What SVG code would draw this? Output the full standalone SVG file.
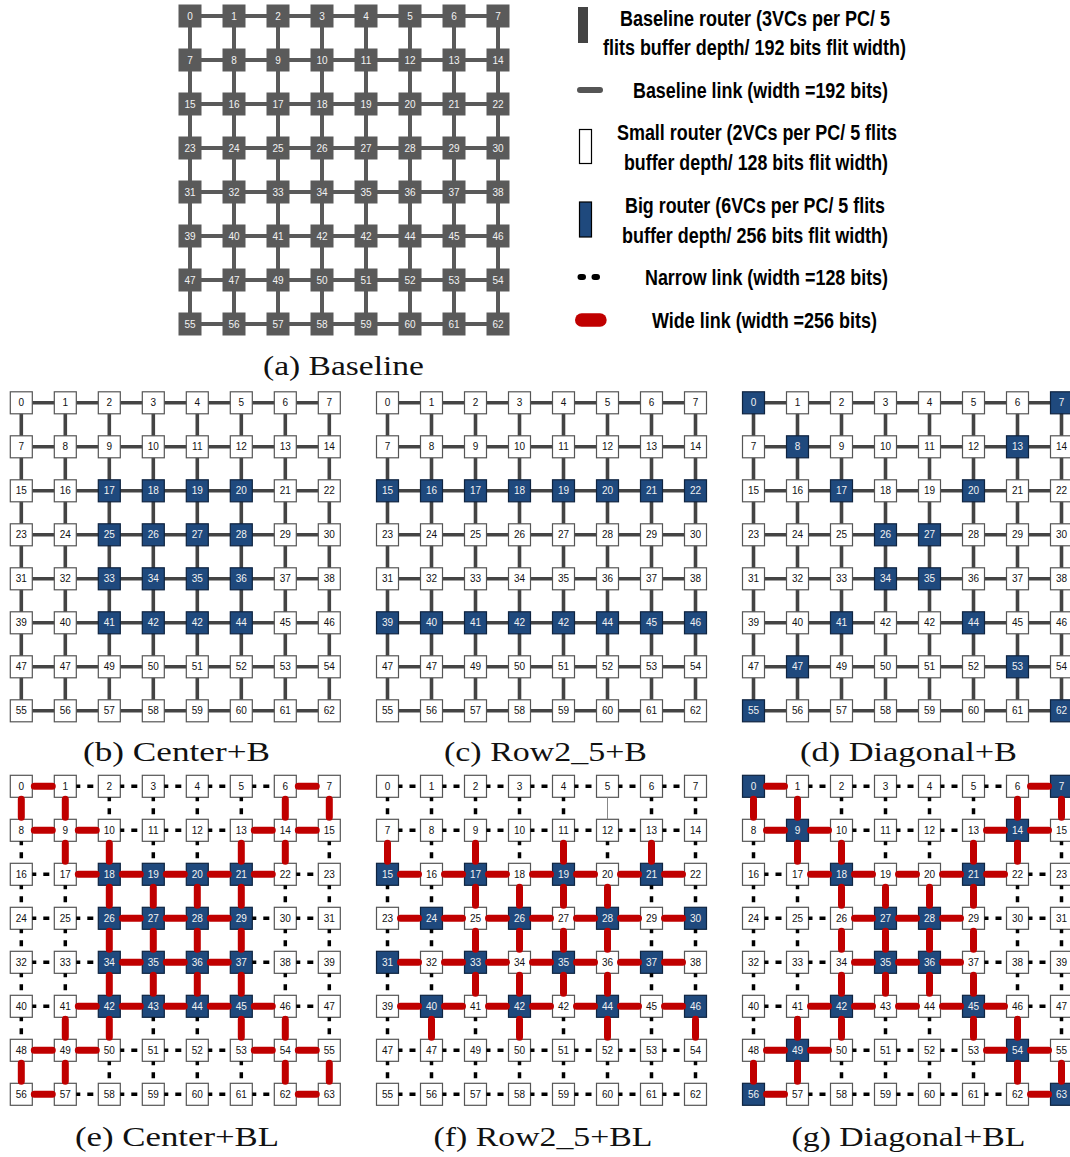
<svg xmlns="http://www.w3.org/2000/svg" xmlns:xlink="http://www.w3.org/1999/xlink" width="1070" height="1157" viewBox="0 0 1070 1157">
<style>
.n text{font-family:"Liberation Sans",Arial,sans-serif;font-size:10px;text-anchor:middle;dominant-baseline:central;fill:#111}
.wt text,.n .b text{fill:#f2f2f2}
.la{fill:none;stroke:#5a5a5a;stroke-width:4}
.lg{fill:none;stroke:#444;stroke-width:3.6}
.red{fill:none;stroke:#c00000;stroke-width:7;stroke-linecap:round}
.dsh{fill:none;stroke:#000;stroke-width:3.5;stroke-dasharray:4 7 6 10}
.cap{font-family:"Liberation Serif","DejaVu Serif",serif;font-size:27px;text-anchor:middle;fill:#111}
.lt{font-family:"Liberation Sans Narrow","Liberation Sans",Arial,sans-serif;font-weight:bold;font-size:22px;fill:#000}
</style>
<defs>
<path id="grid" d="M0 0H308M0 44H308M0 88H308M0 132H308M0 176H308M0 220H308M0 264H308M0 308H308M0 0V308M44 0V308M88 0V308M132 0V308M176 0V308M220 0V308M264 0V308M308 0V308"/>
<rect id="g" x="-11.5" y="-11.5" width="23" height="23" fill="#5a5a5a"/>
<rect id="w" x="-11" y="-11" width="22" height="22" fill="#fff" stroke="#555" stroke-width="1.2"/>
<rect id="k" x="-11" y="-11" width="22" height="22" fill="#1f497d" stroke="#0f2440" stroke-width="1.2"/>
</defs>
<rect width="1070" height="1157" fill="#fff"/>

<g id="legend">
<g id="leg-baseline-router"><rect x="578" y="7" width="10" height="36" fill="#444"/><text class="lt" x="620" y="26" textLength="270" lengthAdjust="spacingAndGlyphs">Baseline router (3VCs per PC/ 5</text><text class="lt" x="603" y="55" textLength="303" lengthAdjust="spacingAndGlyphs">flits buffer depth/ 192 bits flit width)</text></g>
<g id="leg-baseline-link"><line x1="580" y1="90" x2="600" y2="90" stroke="#555" stroke-width="6" stroke-linecap="round"/><text class="lt" x="633" y="98" textLength="255" lengthAdjust="spacingAndGlyphs">Baseline link (width =192 bits)</text></g>
<g id="leg-small-router"><rect x="579.5" y="129.5" width="12" height="34" fill="#fff" stroke="#000" stroke-width="1.2"/><text class="lt" x="617" y="140" textLength="280" lengthAdjust="spacingAndGlyphs">Small router (2VCs per PC/ 5 flits</text><text class="lt" x="624" y="170" textLength="264" lengthAdjust="spacingAndGlyphs">buffer depth/ 128 bits flit width)</text></g>
<g id="leg-big-router"><rect x="579.5" y="202" width="12" height="35" fill="#1f497d" stroke="#000" stroke-width="1.2"/><text class="lt" x="625" y="213" textLength="260" lengthAdjust="spacingAndGlyphs">Big router (6VCs per PC/ 5 flits</text><text class="lt" x="622" y="243" textLength="266" lengthAdjust="spacingAndGlyphs">buffer depth/ 256 bits flit width)</text></g>
<g id="leg-narrow-link"><path d="M580.5 277h2.5M594.5 277h2.5" stroke="#000" stroke-width="6" stroke-linecap="round"/><text class="lt" x="645" y="285" textLength="243" lengthAdjust="spacingAndGlyphs">Narrow link (width =128 bits)</text></g>
<g id="leg-wide-link"><line x1="581.7" y1="320" x2="600" y2="320" stroke="#c00000" stroke-width="13.4" stroke-linecap="round"/><text class="lt" x="652" y="328" textLength="225" lengthAdjust="spacingAndGlyphs">Wide link (width =256 bits)</text></g>
</g>

<g id="captions">
<text class="cap" x="343.5" y="375" textLength="161" lengthAdjust="spacingAndGlyphs">(a) Baseline</text>
<text class="cap" x="176.5" y="761" textLength="187" lengthAdjust="spacingAndGlyphs">(b) Center+B</text>
<text class="cap" x="545.5" y="761" textLength="203" lengthAdjust="spacingAndGlyphs">(c) Row2_5+B</text>
<text class="cap" x="908.5" y="761" textLength="217" lengthAdjust="spacingAndGlyphs">(d) Diagonal+B</text>
<text class="cap" x="177" y="1146" textLength="204" lengthAdjust="spacingAndGlyphs">(e) Center+BL</text>
<text class="cap" x="543" y="1146" textLength="219" lengthAdjust="spacingAndGlyphs">(f) Row2_5+BL</text>
<text class="cap" x="908.5" y="1146" textLength="234" lengthAdjust="spacingAndGlyphs">(g) Diagonal+BL</text>
</g>

<g id="panel-a" transform="translate(190 16)">
<g id="a-links"><use href="#grid" class="la"/></g>
<g id="a-nodes" class="n wt">
<g id="a0" transform="translate(0 0)"><use href="#g"/><text>0</text></g>
<g id="a1" transform="translate(44 0)"><use href="#g"/><text>1</text></g>
<g id="a2" transform="translate(88 0)"><use href="#g"/><text>2</text></g>
<g id="a3" transform="translate(132 0)"><use href="#g"/><text>3</text></g>
<g id="a4" transform="translate(176 0)"><use href="#g"/><text>4</text></g>
<g id="a5" transform="translate(220 0)"><use href="#g"/><text>5</text></g>
<g id="a6" transform="translate(264 0)"><use href="#g"/><text>6</text></g>
<g id="a7" transform="translate(308 0)"><use href="#g"/><text>7</text></g>
<g id="a8" transform="translate(0 44)"><use href="#g"/><text>7</text></g>
<g id="a9" transform="translate(44 44)"><use href="#g"/><text>8</text></g>
<g id="a10" transform="translate(88 44)"><use href="#g"/><text>9</text></g>
<g id="a11" transform="translate(132 44)"><use href="#g"/><text>10</text></g>
<g id="a12" transform="translate(176 44)"><use href="#g"/><text>11</text></g>
<g id="a13" transform="translate(220 44)"><use href="#g"/><text>12</text></g>
<g id="a14" transform="translate(264 44)"><use href="#g"/><text>13</text></g>
<g id="a15" transform="translate(308 44)"><use href="#g"/><text>14</text></g>
<g id="a16" transform="translate(0 88)"><use href="#g"/><text>15</text></g>
<g id="a17" transform="translate(44 88)"><use href="#g"/><text>16</text></g>
<g id="a18" transform="translate(88 88)"><use href="#g"/><text>17</text></g>
<g id="a19" transform="translate(132 88)"><use href="#g"/><text>18</text></g>
<g id="a20" transform="translate(176 88)"><use href="#g"/><text>19</text></g>
<g id="a21" transform="translate(220 88)"><use href="#g"/><text>20</text></g>
<g id="a22" transform="translate(264 88)"><use href="#g"/><text>21</text></g>
<g id="a23" transform="translate(308 88)"><use href="#g"/><text>22</text></g>
<g id="a24" transform="translate(0 132)"><use href="#g"/><text>23</text></g>
<g id="a25" transform="translate(44 132)"><use href="#g"/><text>24</text></g>
<g id="a26" transform="translate(88 132)"><use href="#g"/><text>25</text></g>
<g id="a27" transform="translate(132 132)"><use href="#g"/><text>26</text></g>
<g id="a28" transform="translate(176 132)"><use href="#g"/><text>27</text></g>
<g id="a29" transform="translate(220 132)"><use href="#g"/><text>28</text></g>
<g id="a30" transform="translate(264 132)"><use href="#g"/><text>29</text></g>
<g id="a31" transform="translate(308 132)"><use href="#g"/><text>30</text></g>
<g id="a32" transform="translate(0 176)"><use href="#g"/><text>31</text></g>
<g id="a33" transform="translate(44 176)"><use href="#g"/><text>32</text></g>
<g id="a34" transform="translate(88 176)"><use href="#g"/><text>33</text></g>
<g id="a35" transform="translate(132 176)"><use href="#g"/><text>34</text></g>
<g id="a36" transform="translate(176 176)"><use href="#g"/><text>35</text></g>
<g id="a37" transform="translate(220 176)"><use href="#g"/><text>36</text></g>
<g id="a38" transform="translate(264 176)"><use href="#g"/><text>37</text></g>
<g id="a39" transform="translate(308 176)"><use href="#g"/><text>38</text></g>
<g id="a40" transform="translate(0 220)"><use href="#g"/><text>39</text></g>
<g id="a41" transform="translate(44 220)"><use href="#g"/><text>40</text></g>
<g id="a42" transform="translate(88 220)"><use href="#g"/><text>41</text></g>
<g id="a43" transform="translate(132 220)"><use href="#g"/><text>42</text></g>
<g id="a44" transform="translate(176 220)"><use href="#g"/><text>42</text></g>
<g id="a45" transform="translate(220 220)"><use href="#g"/><text>44</text></g>
<g id="a46" transform="translate(264 220)"><use href="#g"/><text>45</text></g>
<g id="a47" transform="translate(308 220)"><use href="#g"/><text>46</text></g>
<g id="a48" transform="translate(0 264)"><use href="#g"/><text>47</text></g>
<g id="a49" transform="translate(44 264)"><use href="#g"/><text>47</text></g>
<g id="a50" transform="translate(88 264)"><use href="#g"/><text>49</text></g>
<g id="a51" transform="translate(132 264)"><use href="#g"/><text>50</text></g>
<g id="a52" transform="translate(176 264)"><use href="#g"/><text>51</text></g>
<g id="a53" transform="translate(220 264)"><use href="#g"/><text>52</text></g>
<g id="a54" transform="translate(264 264)"><use href="#g"/><text>53</text></g>
<g id="a55" transform="translate(308 264)"><use href="#g"/><text>54</text></g>
<g id="a56" transform="translate(0 308)"><use href="#g"/><text>55</text></g>
<g id="a57" transform="translate(44 308)"><use href="#g"/><text>56</text></g>
<g id="a58" transform="translate(88 308)"><use href="#g"/><text>57</text></g>
<g id="a59" transform="translate(132 308)"><use href="#g"/><text>58</text></g>
<g id="a60" transform="translate(176 308)"><use href="#g"/><text>59</text></g>
<g id="a61" transform="translate(220 308)"><use href="#g"/><text>60</text></g>
<g id="a62" transform="translate(264 308)"><use href="#g"/><text>61</text></g>
<g id="a63" transform="translate(308 308)"><use href="#g"/><text>62</text></g>
</g>
</g>

<g id="panel-b" transform="translate(21.3 402.8)">
<g id="b-links"><use href="#grid" class="lg"/></g>
<g id="b-nodes" class="n">
<g id="b0" transform="translate(0 0)"><use href="#w"/><text>0</text></g>
<g id="b1" transform="translate(44 0)"><use href="#w"/><text>1</text></g>
<g id="b2" transform="translate(88 0)"><use href="#w"/><text>2</text></g>
<g id="b3" transform="translate(132 0)"><use href="#w"/><text>3</text></g>
<g id="b4" transform="translate(176 0)"><use href="#w"/><text>4</text></g>
<g id="b5" transform="translate(220 0)"><use href="#w"/><text>5</text></g>
<g id="b6" transform="translate(264 0)"><use href="#w"/><text>6</text></g>
<g id="b7" transform="translate(308 0)"><use href="#w"/><text>7</text></g>
<g id="b8" transform="translate(0 44)"><use href="#w"/><text>7</text></g>
<g id="b9" transform="translate(44 44)"><use href="#w"/><text>8</text></g>
<g id="b10" transform="translate(88 44)"><use href="#w"/><text>9</text></g>
<g id="b11" transform="translate(132 44)"><use href="#w"/><text>10</text></g>
<g id="b12" transform="translate(176 44)"><use href="#w"/><text>11</text></g>
<g id="b13" transform="translate(220 44)"><use href="#w"/><text>12</text></g>
<g id="b14" transform="translate(264 44)"><use href="#w"/><text>13</text></g>
<g id="b15" transform="translate(308 44)"><use href="#w"/><text>14</text></g>
<g id="b16" transform="translate(0 88)"><use href="#w"/><text>15</text></g>
<g id="b17" transform="translate(44 88)"><use href="#w"/><text>16</text></g>
<g id="b18" class="b" transform="translate(88 88)"><use href="#k"/><text>17</text></g>
<g id="b19" class="b" transform="translate(132 88)"><use href="#k"/><text>18</text></g>
<g id="b20" class="b" transform="translate(176 88)"><use href="#k"/><text>19</text></g>
<g id="b21" class="b" transform="translate(220 88)"><use href="#k"/><text>20</text></g>
<g id="b22" transform="translate(264 88)"><use href="#w"/><text>21</text></g>
<g id="b23" transform="translate(308 88)"><use href="#w"/><text>22</text></g>
<g id="b24" transform="translate(0 132)"><use href="#w"/><text>23</text></g>
<g id="b25" transform="translate(44 132)"><use href="#w"/><text>24</text></g>
<g id="b26" class="b" transform="translate(88 132)"><use href="#k"/><text>25</text></g>
<g id="b27" class="b" transform="translate(132 132)"><use href="#k"/><text>26</text></g>
<g id="b28" class="b" transform="translate(176 132)"><use href="#k"/><text>27</text></g>
<g id="b29" class="b" transform="translate(220 132)"><use href="#k"/><text>28</text></g>
<g id="b30" transform="translate(264 132)"><use href="#w"/><text>29</text></g>
<g id="b31" transform="translate(308 132)"><use href="#w"/><text>30</text></g>
<g id="b32" transform="translate(0 176)"><use href="#w"/><text>31</text></g>
<g id="b33" transform="translate(44 176)"><use href="#w"/><text>32</text></g>
<g id="b34" class="b" transform="translate(88 176)"><use href="#k"/><text>33</text></g>
<g id="b35" class="b" transform="translate(132 176)"><use href="#k"/><text>34</text></g>
<g id="b36" class="b" transform="translate(176 176)"><use href="#k"/><text>35</text></g>
<g id="b37" class="b" transform="translate(220 176)"><use href="#k"/><text>36</text></g>
<g id="b38" transform="translate(264 176)"><use href="#w"/><text>37</text></g>
<g id="b39" transform="translate(308 176)"><use href="#w"/><text>38</text></g>
<g id="b40" transform="translate(0 220)"><use href="#w"/><text>39</text></g>
<g id="b41" transform="translate(44 220)"><use href="#w"/><text>40</text></g>
<g id="b42" class="b" transform="translate(88 220)"><use href="#k"/><text>41</text></g>
<g id="b43" class="b" transform="translate(132 220)"><use href="#k"/><text>42</text></g>
<g id="b44" class="b" transform="translate(176 220)"><use href="#k"/><text>42</text></g>
<g id="b45" class="b" transform="translate(220 220)"><use href="#k"/><text>44</text></g>
<g id="b46" transform="translate(264 220)"><use href="#w"/><text>45</text></g>
<g id="b47" transform="translate(308 220)"><use href="#w"/><text>46</text></g>
<g id="b48" transform="translate(0 264)"><use href="#w"/><text>47</text></g>
<g id="b49" transform="translate(44 264)"><use href="#w"/><text>47</text></g>
<g id="b50" transform="translate(88 264)"><use href="#w"/><text>49</text></g>
<g id="b51" transform="translate(132 264)"><use href="#w"/><text>50</text></g>
<g id="b52" transform="translate(176 264)"><use href="#w"/><text>51</text></g>
<g id="b53" transform="translate(220 264)"><use href="#w"/><text>52</text></g>
<g id="b54" transform="translate(264 264)"><use href="#w"/><text>53</text></g>
<g id="b55" transform="translate(308 264)"><use href="#w"/><text>54</text></g>
<g id="b56" transform="translate(0 308)"><use href="#w"/><text>55</text></g>
<g id="b57" transform="translate(44 308)"><use href="#w"/><text>56</text></g>
<g id="b58" transform="translate(88 308)"><use href="#w"/><text>57</text></g>
<g id="b59" transform="translate(132 308)"><use href="#w"/><text>58</text></g>
<g id="b60" transform="translate(176 308)"><use href="#w"/><text>59</text></g>
<g id="b61" transform="translate(220 308)"><use href="#w"/><text>60</text></g>
<g id="b62" transform="translate(264 308)"><use href="#w"/><text>61</text></g>
<g id="b63" transform="translate(308 308)"><use href="#w"/><text>62</text></g>
</g>
</g>

<g id="panel-c" transform="translate(387.5 402.8)">
<g id="c-links"><use href="#grid" class="lg"/></g>
<g id="c-nodes" class="n">
<g id="c0" transform="translate(0 0)"><use href="#w"/><text>0</text></g>
<g id="c1" transform="translate(44 0)"><use href="#w"/><text>1</text></g>
<g id="c2" transform="translate(88 0)"><use href="#w"/><text>2</text></g>
<g id="c3" transform="translate(132 0)"><use href="#w"/><text>3</text></g>
<g id="c4" transform="translate(176 0)"><use href="#w"/><text>4</text></g>
<g id="c5" transform="translate(220 0)"><use href="#w"/><text>5</text></g>
<g id="c6" transform="translate(264 0)"><use href="#w"/><text>6</text></g>
<g id="c7" transform="translate(308 0)"><use href="#w"/><text>7</text></g>
<g id="c8" transform="translate(0 44)"><use href="#w"/><text>7</text></g>
<g id="c9" transform="translate(44 44)"><use href="#w"/><text>8</text></g>
<g id="c10" transform="translate(88 44)"><use href="#w"/><text>9</text></g>
<g id="c11" transform="translate(132 44)"><use href="#w"/><text>10</text></g>
<g id="c12" transform="translate(176 44)"><use href="#w"/><text>11</text></g>
<g id="c13" transform="translate(220 44)"><use href="#w"/><text>12</text></g>
<g id="c14" transform="translate(264 44)"><use href="#w"/><text>13</text></g>
<g id="c15" transform="translate(308 44)"><use href="#w"/><text>14</text></g>
<g id="c16" class="b" transform="translate(0 88)"><use href="#k"/><text>15</text></g>
<g id="c17" class="b" transform="translate(44 88)"><use href="#k"/><text>16</text></g>
<g id="c18" class="b" transform="translate(88 88)"><use href="#k"/><text>17</text></g>
<g id="c19" class="b" transform="translate(132 88)"><use href="#k"/><text>18</text></g>
<g id="c20" class="b" transform="translate(176 88)"><use href="#k"/><text>19</text></g>
<g id="c21" class="b" transform="translate(220 88)"><use href="#k"/><text>20</text></g>
<g id="c22" class="b" transform="translate(264 88)"><use href="#k"/><text>21</text></g>
<g id="c23" class="b" transform="translate(308 88)"><use href="#k"/><text>22</text></g>
<g id="c24" transform="translate(0 132)"><use href="#w"/><text>23</text></g>
<g id="c25" transform="translate(44 132)"><use href="#w"/><text>24</text></g>
<g id="c26" transform="translate(88 132)"><use href="#w"/><text>25</text></g>
<g id="c27" transform="translate(132 132)"><use href="#w"/><text>26</text></g>
<g id="c28" transform="translate(176 132)"><use href="#w"/><text>27</text></g>
<g id="c29" transform="translate(220 132)"><use href="#w"/><text>28</text></g>
<g id="c30" transform="translate(264 132)"><use href="#w"/><text>29</text></g>
<g id="c31" transform="translate(308 132)"><use href="#w"/><text>30</text></g>
<g id="c32" transform="translate(0 176)"><use href="#w"/><text>31</text></g>
<g id="c33" transform="translate(44 176)"><use href="#w"/><text>32</text></g>
<g id="c34" transform="translate(88 176)"><use href="#w"/><text>33</text></g>
<g id="c35" transform="translate(132 176)"><use href="#w"/><text>34</text></g>
<g id="c36" transform="translate(176 176)"><use href="#w"/><text>35</text></g>
<g id="c37" transform="translate(220 176)"><use href="#w"/><text>36</text></g>
<g id="c38" transform="translate(264 176)"><use href="#w"/><text>37</text></g>
<g id="c39" transform="translate(308 176)"><use href="#w"/><text>38</text></g>
<g id="c40" class="b" transform="translate(0 220)"><use href="#k"/><text>39</text></g>
<g id="c41" class="b" transform="translate(44 220)"><use href="#k"/><text>40</text></g>
<g id="c42" class="b" transform="translate(88 220)"><use href="#k"/><text>41</text></g>
<g id="c43" class="b" transform="translate(132 220)"><use href="#k"/><text>42</text></g>
<g id="c44" class="b" transform="translate(176 220)"><use href="#k"/><text>42</text></g>
<g id="c45" class="b" transform="translate(220 220)"><use href="#k"/><text>44</text></g>
<g id="c46" class="b" transform="translate(264 220)"><use href="#k"/><text>45</text></g>
<g id="c47" class="b" transform="translate(308 220)"><use href="#k"/><text>46</text></g>
<g id="c48" transform="translate(0 264)"><use href="#w"/><text>47</text></g>
<g id="c49" transform="translate(44 264)"><use href="#w"/><text>47</text></g>
<g id="c50" transform="translate(88 264)"><use href="#w"/><text>49</text></g>
<g id="c51" transform="translate(132 264)"><use href="#w"/><text>50</text></g>
<g id="c52" transform="translate(176 264)"><use href="#w"/><text>51</text></g>
<g id="c53" transform="translate(220 264)"><use href="#w"/><text>52</text></g>
<g id="c54" transform="translate(264 264)"><use href="#w"/><text>53</text></g>
<g id="c55" transform="translate(308 264)"><use href="#w"/><text>54</text></g>
<g id="c56" transform="translate(0 308)"><use href="#w"/><text>55</text></g>
<g id="c57" transform="translate(44 308)"><use href="#w"/><text>56</text></g>
<g id="c58" transform="translate(88 308)"><use href="#w"/><text>57</text></g>
<g id="c59" transform="translate(132 308)"><use href="#w"/><text>58</text></g>
<g id="c60" transform="translate(176 308)"><use href="#w"/><text>59</text></g>
<g id="c61" transform="translate(220 308)"><use href="#w"/><text>60</text></g>
<g id="c62" transform="translate(264 308)"><use href="#w"/><text>61</text></g>
<g id="c63" transform="translate(308 308)"><use href="#w"/><text>62</text></g>
</g>
</g>

<g id="panel-d" transform="translate(753.5 402.8)">
<g id="d-links"><use href="#grid" class="lg"/></g>
<g id="d-nodes" class="n">
<g id="d0" class="b" transform="translate(0 0)"><use href="#k"/><text>0</text></g>
<g id="d1" transform="translate(44 0)"><use href="#w"/><text>1</text></g>
<g id="d2" transform="translate(88 0)"><use href="#w"/><text>2</text></g>
<g id="d3" transform="translate(132 0)"><use href="#w"/><text>3</text></g>
<g id="d4" transform="translate(176 0)"><use href="#w"/><text>4</text></g>
<g id="d5" transform="translate(220 0)"><use href="#w"/><text>5</text></g>
<g id="d6" transform="translate(264 0)"><use href="#w"/><text>6</text></g>
<g id="d7" class="b" transform="translate(308 0)"><use href="#k"/><text>7</text></g>
<g id="d8" transform="translate(0 44)"><use href="#w"/><text>7</text></g>
<g id="d9" class="b" transform="translate(44 44)"><use href="#k"/><text>8</text></g>
<g id="d10" transform="translate(88 44)"><use href="#w"/><text>9</text></g>
<g id="d11" transform="translate(132 44)"><use href="#w"/><text>10</text></g>
<g id="d12" transform="translate(176 44)"><use href="#w"/><text>11</text></g>
<g id="d13" transform="translate(220 44)"><use href="#w"/><text>12</text></g>
<g id="d14" class="b" transform="translate(264 44)"><use href="#k"/><text>13</text></g>
<g id="d15" transform="translate(308 44)"><use href="#w"/><text>14</text></g>
<g id="d16" transform="translate(0 88)"><use href="#w"/><text>15</text></g>
<g id="d17" transform="translate(44 88)"><use href="#w"/><text>16</text></g>
<g id="d18" class="b" transform="translate(88 88)"><use href="#k"/><text>17</text></g>
<g id="d19" transform="translate(132 88)"><use href="#w"/><text>18</text></g>
<g id="d20" transform="translate(176 88)"><use href="#w"/><text>19</text></g>
<g id="d21" class="b" transform="translate(220 88)"><use href="#k"/><text>20</text></g>
<g id="d22" transform="translate(264 88)"><use href="#w"/><text>21</text></g>
<g id="d23" transform="translate(308 88)"><use href="#w"/><text>22</text></g>
<g id="d24" transform="translate(0 132)"><use href="#w"/><text>23</text></g>
<g id="d25" transform="translate(44 132)"><use href="#w"/><text>24</text></g>
<g id="d26" transform="translate(88 132)"><use href="#w"/><text>25</text></g>
<g id="d27" class="b" transform="translate(132 132)"><use href="#k"/><text>26</text></g>
<g id="d28" class="b" transform="translate(176 132)"><use href="#k"/><text>27</text></g>
<g id="d29" transform="translate(220 132)"><use href="#w"/><text>28</text></g>
<g id="d30" transform="translate(264 132)"><use href="#w"/><text>29</text></g>
<g id="d31" transform="translate(308 132)"><use href="#w"/><text>30</text></g>
<g id="d32" transform="translate(0 176)"><use href="#w"/><text>31</text></g>
<g id="d33" transform="translate(44 176)"><use href="#w"/><text>32</text></g>
<g id="d34" transform="translate(88 176)"><use href="#w"/><text>33</text></g>
<g id="d35" class="b" transform="translate(132 176)"><use href="#k"/><text>34</text></g>
<g id="d36" class="b" transform="translate(176 176)"><use href="#k"/><text>35</text></g>
<g id="d37" transform="translate(220 176)"><use href="#w"/><text>36</text></g>
<g id="d38" transform="translate(264 176)"><use href="#w"/><text>37</text></g>
<g id="d39" transform="translate(308 176)"><use href="#w"/><text>38</text></g>
<g id="d40" transform="translate(0 220)"><use href="#w"/><text>39</text></g>
<g id="d41" transform="translate(44 220)"><use href="#w"/><text>40</text></g>
<g id="d42" class="b" transform="translate(88 220)"><use href="#k"/><text>41</text></g>
<g id="d43" transform="translate(132 220)"><use href="#w"/><text>42</text></g>
<g id="d44" transform="translate(176 220)"><use href="#w"/><text>42</text></g>
<g id="d45" class="b" transform="translate(220 220)"><use href="#k"/><text>44</text></g>
<g id="d46" transform="translate(264 220)"><use href="#w"/><text>45</text></g>
<g id="d47" transform="translate(308 220)"><use href="#w"/><text>46</text></g>
<g id="d48" transform="translate(0 264)"><use href="#w"/><text>47</text></g>
<g id="d49" class="b" transform="translate(44 264)"><use href="#k"/><text>47</text></g>
<g id="d50" transform="translate(88 264)"><use href="#w"/><text>49</text></g>
<g id="d51" transform="translate(132 264)"><use href="#w"/><text>50</text></g>
<g id="d52" transform="translate(176 264)"><use href="#w"/><text>51</text></g>
<g id="d53" transform="translate(220 264)"><use href="#w"/><text>52</text></g>
<g id="d54" class="b" transform="translate(264 264)"><use href="#k"/><text>53</text></g>
<g id="d55" transform="translate(308 264)"><use href="#w"/><text>54</text></g>
<g id="d56" class="b" transform="translate(0 308)"><use href="#k"/><text>55</text></g>
<g id="d57" transform="translate(44 308)"><use href="#w"/><text>56</text></g>
<g id="d58" transform="translate(88 308)"><use href="#w"/><text>57</text></g>
<g id="d59" transform="translate(132 308)"><use href="#w"/><text>58</text></g>
<g id="d60" transform="translate(176 308)"><use href="#w"/><text>59</text></g>
<g id="d61" transform="translate(220 308)"><use href="#w"/><text>60</text></g>
<g id="d62" transform="translate(264 308)"><use href="#w"/><text>61</text></g>
<g id="d63" class="b" transform="translate(308 308)"><use href="#k"/><text>62</text></g>
</g>
</g>

<g id="panel-e" transform="translate(21.3 786.3)">
<g id="e-nodes" class="n">
<g id="e0" transform="translate(0 0)"><use href="#w"/><text>0</text></g>
<g id="e1" transform="translate(44 0)"><use href="#w"/><text>1</text></g>
<g id="e2" transform="translate(88 0)"><use href="#w"/><text>2</text></g>
<g id="e3" transform="translate(132 0)"><use href="#w"/><text>3</text></g>
<g id="e4" transform="translate(176 0)"><use href="#w"/><text>4</text></g>
<g id="e5" transform="translate(220 0)"><use href="#w"/><text>5</text></g>
<g id="e6" transform="translate(264 0)"><use href="#w"/><text>6</text></g>
<g id="e7" transform="translate(308 0)"><use href="#w"/><text>7</text></g>
<g id="e8" transform="translate(0 44)"><use href="#w"/><text>8</text></g>
<g id="e9" transform="translate(44 44)"><use href="#w"/><text>9</text></g>
<g id="e10" transform="translate(88 44)"><use href="#w"/><text>10</text></g>
<g id="e11" transform="translate(132 44)"><use href="#w"/><text>11</text></g>
<g id="e12" transform="translate(176 44)"><use href="#w"/><text>12</text></g>
<g id="e13" transform="translate(220 44)"><use href="#w"/><text>13</text></g>
<g id="e14" transform="translate(264 44)"><use href="#w"/><text>14</text></g>
<g id="e15" transform="translate(308 44)"><use href="#w"/><text>15</text></g>
<g id="e16" transform="translate(0 88)"><use href="#w"/><text>16</text></g>
<g id="e17" transform="translate(44 88)"><use href="#w"/><text>17</text></g>
<g id="e18" class="b" transform="translate(88 88)"><use href="#k"/><text>18</text></g>
<g id="e19" class="b" transform="translate(132 88)"><use href="#k"/><text>19</text></g>
<g id="e20" class="b" transform="translate(176 88)"><use href="#k"/><text>20</text></g>
<g id="e21" class="b" transform="translate(220 88)"><use href="#k"/><text>21</text></g>
<g id="e22" transform="translate(264 88)"><use href="#w"/><text>22</text></g>
<g id="e23" transform="translate(308 88)"><use href="#w"/><text>23</text></g>
<g id="e24" transform="translate(0 132)"><use href="#w"/><text>24</text></g>
<g id="e25" transform="translate(44 132)"><use href="#w"/><text>25</text></g>
<g id="e26" class="b" transform="translate(88 132)"><use href="#k"/><text>26</text></g>
<g id="e27" class="b" transform="translate(132 132)"><use href="#k"/><text>27</text></g>
<g id="e28" class="b" transform="translate(176 132)"><use href="#k"/><text>28</text></g>
<g id="e29" class="b" transform="translate(220 132)"><use href="#k"/><text>29</text></g>
<g id="e30" transform="translate(264 132)"><use href="#w"/><text>30</text></g>
<g id="e31" transform="translate(308 132)"><use href="#w"/><text>31</text></g>
<g id="e32" transform="translate(0 176)"><use href="#w"/><text>32</text></g>
<g id="e33" transform="translate(44 176)"><use href="#w"/><text>33</text></g>
<g id="e34" class="b" transform="translate(88 176)"><use href="#k"/><text>34</text></g>
<g id="e35" class="b" transform="translate(132 176)"><use href="#k"/><text>35</text></g>
<g id="e36" class="b" transform="translate(176 176)"><use href="#k"/><text>36</text></g>
<g id="e37" class="b" transform="translate(220 176)"><use href="#k"/><text>37</text></g>
<g id="e38" transform="translate(264 176)"><use href="#w"/><text>38</text></g>
<g id="e39" transform="translate(308 176)"><use href="#w"/><text>39</text></g>
<g id="e40" transform="translate(0 220)"><use href="#w"/><text>40</text></g>
<g id="e41" transform="translate(44 220)"><use href="#w"/><text>41</text></g>
<g id="e42" class="b" transform="translate(88 220)"><use href="#k"/><text>42</text></g>
<g id="e43" class="b" transform="translate(132 220)"><use href="#k"/><text>43</text></g>
<g id="e44" class="b" transform="translate(176 220)"><use href="#k"/><text>44</text></g>
<g id="e45" class="b" transform="translate(220 220)"><use href="#k"/><text>45</text></g>
<g id="e46" transform="translate(264 220)"><use href="#w"/><text>46</text></g>
<g id="e47" transform="translate(308 220)"><use href="#w"/><text>47</text></g>
<g id="e48" transform="translate(0 264)"><use href="#w"/><text>48</text></g>
<g id="e49" transform="translate(44 264)"><use href="#w"/><text>49</text></g>
<g id="e50" transform="translate(88 264)"><use href="#w"/><text>50</text></g>
<g id="e51" transform="translate(132 264)"><use href="#w"/><text>51</text></g>
<g id="e52" transform="translate(176 264)"><use href="#w"/><text>52</text></g>
<g id="e53" transform="translate(220 264)"><use href="#w"/><text>53</text></g>
<g id="e54" transform="translate(264 264)"><use href="#w"/><text>54</text></g>
<g id="e55" transform="translate(308 264)"><use href="#w"/><text>55</text></g>
<g id="e56" transform="translate(0 308)"><use href="#w"/><text>56</text></g>
<g id="e57" transform="translate(44 308)"><use href="#w"/><text>57</text></g>
<g id="e58" transform="translate(88 308)"><use href="#w"/><text>58</text></g>
<g id="e59" transform="translate(132 308)"><use href="#w"/><text>59</text></g>
<g id="e60" transform="translate(176 308)"><use href="#w"/><text>60</text></g>
<g id="e61" transform="translate(220 308)"><use href="#w"/><text>61</text></g>
<g id="e62" transform="translate(264 308)"><use href="#w"/><text>62</text></g>
<g id="e63" transform="translate(308 308)"><use href="#w"/><text>63</text></g>
</g>
<g id="e-links">
<path class="dsh" d="M55 0h22M99 0h22M143 0h22M187 0h22M231 0h22M99 44h22M143 44h22M187 44h22M11 88h22M275 88h22M11 132h22M55 132h22M231 132h22M275 132h22M11 176h22M55 176h22M231 176h22M275 176h22M11 220h22M275 220h22M99 264h22M143 264h22M187 264h22M55 308h22M99 308h22M143 308h22M187 308h22M231 308h22M88 11v22M132 11v22M176 11v22M220 11v22M0 55v22M132 55v22M176 55v22M308 55v22M0 99v22M44 99v22M264 99v22M308 99v22M0 143v22M44 143v22M264 143v22M308 143v22M0 187v22M44 187v22M264 187v22M308 187v22M0 231v22M132 231v22M176 231v22M308 231v22M88 275v22M132 275v22M176 275v22M220 275v22"/>
<path class="red" d="M13 0h18M277 0h18M13 44h18M57 44h18M233 44h18M277 44h18M57 88h18M101 88h18M145 88h18M189 88h18M233 88h18M101 132h18M145 132h18M189 132h18M101 176h18M145 176h18M189 176h18M57 220h18M101 220h18M145 220h18M189 220h18M233 220h18M13 264h18M57 264h18M233 264h18M277 264h18M13 308h18M277 308h18M0 13v18M44 13v18M264 13v18M308 13v18M44 57v18M88 57v18M220 57v18M264 57v18M88 101v18M132 101v18M176 101v18M220 101v18M88 145v18M132 145v18M176 145v18M220 145v18M88 189v18M132 189v18M176 189v18M220 189v18M44 233v18M88 233v18M220 233v18M264 233v18M0 277v18M44 277v18M264 277v18M308 277v18"/>
</g>
</g>

<g id="panel-f" transform="translate(387.5 786.3)">
<g id="f-nodes" class="n">
<g id="f0" transform="translate(0 0)"><use href="#w"/><text>0</text></g>
<g id="f1" transform="translate(44 0)"><use href="#w"/><text>1</text></g>
<g id="f2" transform="translate(88 0)"><use href="#w"/><text>2</text></g>
<g id="f3" transform="translate(132 0)"><use href="#w"/><text>3</text></g>
<g id="f4" transform="translate(176 0)"><use href="#w"/><text>4</text></g>
<g id="f5" transform="translate(220 0)"><use href="#w"/><text>5</text></g>
<g id="f6" transform="translate(264 0)"><use href="#w"/><text>6</text></g>
<g id="f7" transform="translate(308 0)"><use href="#w"/><text>7</text></g>
<g id="f8" transform="translate(0 44)"><use href="#w"/><text>7</text></g>
<g id="f9" transform="translate(44 44)"><use href="#w"/><text>8</text></g>
<g id="f10" transform="translate(88 44)"><use href="#w"/><text>9</text></g>
<g id="f11" transform="translate(132 44)"><use href="#w"/><text>10</text></g>
<g id="f12" transform="translate(176 44)"><use href="#w"/><text>11</text></g>
<g id="f13" transform="translate(220 44)"><use href="#w"/><text>12</text></g>
<g id="f14" transform="translate(264 44)"><use href="#w"/><text>13</text></g>
<g id="f15" transform="translate(308 44)"><use href="#w"/><text>14</text></g>
<g id="f16" class="b" transform="translate(0 88)"><use href="#k"/><text>15</text></g>
<g id="f17" transform="translate(44 88)"><use href="#w"/><text>16</text></g>
<g id="f18" class="b" transform="translate(88 88)"><use href="#k"/><text>17</text></g>
<g id="f19" transform="translate(132 88)"><use href="#w"/><text>18</text></g>
<g id="f20" class="b" transform="translate(176 88)"><use href="#k"/><text>19</text></g>
<g id="f21" transform="translate(220 88)"><use href="#w"/><text>20</text></g>
<g id="f22" class="b" transform="translate(264 88)"><use href="#k"/><text>21</text></g>
<g id="f23" transform="translate(308 88)"><use href="#w"/><text>22</text></g>
<g id="f24" transform="translate(0 132)"><use href="#w"/><text>23</text></g>
<g id="f25" class="b" transform="translate(44 132)"><use href="#k"/><text>24</text></g>
<g id="f26" transform="translate(88 132)"><use href="#w"/><text>25</text></g>
<g id="f27" class="b" transform="translate(132 132)"><use href="#k"/><text>26</text></g>
<g id="f28" transform="translate(176 132)"><use href="#w"/><text>27</text></g>
<g id="f29" class="b" transform="translate(220 132)"><use href="#k"/><text>28</text></g>
<g id="f30" transform="translate(264 132)"><use href="#w"/><text>29</text></g>
<g id="f31" class="b" transform="translate(308 132)"><use href="#k"/><text>30</text></g>
<g id="f32" class="b" transform="translate(0 176)"><use href="#k"/><text>31</text></g>
<g id="f33" transform="translate(44 176)"><use href="#w"/><text>32</text></g>
<g id="f34" class="b" transform="translate(88 176)"><use href="#k"/><text>33</text></g>
<g id="f35" transform="translate(132 176)"><use href="#w"/><text>34</text></g>
<g id="f36" class="b" transform="translate(176 176)"><use href="#k"/><text>35</text></g>
<g id="f37" transform="translate(220 176)"><use href="#w"/><text>36</text></g>
<g id="f38" class="b" transform="translate(264 176)"><use href="#k"/><text>37</text></g>
<g id="f39" transform="translate(308 176)"><use href="#w"/><text>38</text></g>
<g id="f40" transform="translate(0 220)"><use href="#w"/><text>39</text></g>
<g id="f41" class="b" transform="translate(44 220)"><use href="#k"/><text>40</text></g>
<g id="f42" transform="translate(88 220)"><use href="#w"/><text>41</text></g>
<g id="f43" class="b" transform="translate(132 220)"><use href="#k"/><text>42</text></g>
<g id="f44" transform="translate(176 220)"><use href="#w"/><text>42</text></g>
<g id="f45" class="b" transform="translate(220 220)"><use href="#k"/><text>44</text></g>
<g id="f46" transform="translate(264 220)"><use href="#w"/><text>45</text></g>
<g id="f47" class="b" transform="translate(308 220)"><use href="#k"/><text>46</text></g>
<g id="f48" transform="translate(0 264)"><use href="#w"/><text>47</text></g>
<g id="f49" transform="translate(44 264)"><use href="#w"/><text>47</text></g>
<g id="f50" transform="translate(88 264)"><use href="#w"/><text>49</text></g>
<g id="f51" transform="translate(132 264)"><use href="#w"/><text>50</text></g>
<g id="f52" transform="translate(176 264)"><use href="#w"/><text>51</text></g>
<g id="f53" transform="translate(220 264)"><use href="#w"/><text>52</text></g>
<g id="f54" transform="translate(264 264)"><use href="#w"/><text>53</text></g>
<g id="f55" transform="translate(308 264)"><use href="#w"/><text>54</text></g>
<g id="f56" transform="translate(0 308)"><use href="#w"/><text>55</text></g>
<g id="f57" transform="translate(44 308)"><use href="#w"/><text>56</text></g>
<g id="f58" transform="translate(88 308)"><use href="#w"/><text>57</text></g>
<g id="f59" transform="translate(132 308)"><use href="#w"/><text>58</text></g>
<g id="f60" transform="translate(176 308)"><use href="#w"/><text>59</text></g>
<g id="f61" transform="translate(220 308)"><use href="#w"/><text>60</text></g>
<g id="f62" transform="translate(264 308)"><use href="#w"/><text>61</text></g>
<g id="f63" transform="translate(308 308)"><use href="#w"/><text>62</text></g>
</g>
<g id="f-links">
<path d="M220 11v22" fill="none" stroke="#888" stroke-width="1"/>
<path class="dsh" d="M11 0h22M55 0h22M99 0h22M143 0h22M187 0h22M231 0h22M275 0h22M11 44h22M55 44h22M99 44h22M143 44h22M187 44h22M231 44h22M275 44h22M11 264h22M55 264h22M99 264h22M143 264h22M187 264h22M231 264h22M275 264h22M11 308h22M55 308h22M99 308h22M143 308h22M187 308h22M231 308h22M275 308h22M0 11v22M44 11v22M88 11v22M132 11v22M176 11v22M264 11v22M308 11v22M44 55v22M132 55v22M220 55v22M308 55v22M0 99v22M44 99v22M264 99v22M308 99v22M0 143v22M44 143v22M264 143v22M308 143v22M0 187v22M44 187v22M264 187v22M308 187v22M0 231v22M88 231v22M176 231v22M264 231v22M0 275v22M44 275v22M88 275v22M132 275v22M176 275v22M220 275v22M264 275v22M308 275v22"/>
<path class="red" d="M13 88h18M57 88h18M101 88h18M145 88h18M189 88h18M233 88h18M277 88h18M13 132h18M57 132h18M101 132h18M145 132h18M189 132h18M233 132h18M277 132h18M13 176h18M57 176h18M101 176h18M145 176h18M189 176h18M233 176h18M277 176h18M13 220h18M57 220h18M101 220h18M145 220h18M189 220h18M233 220h18M277 220h18M0 57v18M88 57v18M176 57v18M264 57v18M88 101v18M132 101v18M176 101v18M220 101v18M88 145v18M132 145v18M176 145v18M220 145v18M88 189v18M132 189v18M176 189v18M220 189v18M44 233v18M132 233v18M220 233v18M308 233v18"/>
</g>
</g>

<g id="panel-g" transform="translate(753.5 786.3)">
<g id="g-nodes" class="n">
<g id="g0" class="b" transform="translate(0 0)"><use href="#k"/><text>0</text></g>
<g id="g1" transform="translate(44 0)"><use href="#w"/><text>1</text></g>
<g id="g2" transform="translate(88 0)"><use href="#w"/><text>2</text></g>
<g id="g3" transform="translate(132 0)"><use href="#w"/><text>3</text></g>
<g id="g4" transform="translate(176 0)"><use href="#w"/><text>4</text></g>
<g id="g5" transform="translate(220 0)"><use href="#w"/><text>5</text></g>
<g id="g6" transform="translate(264 0)"><use href="#w"/><text>6</text></g>
<g id="g7" class="b" transform="translate(308 0)"><use href="#k"/><text>7</text></g>
<g id="g8" transform="translate(0 44)"><use href="#w"/><text>8</text></g>
<g id="g9" class="b" transform="translate(44 44)"><use href="#k"/><text>9</text></g>
<g id="g10" transform="translate(88 44)"><use href="#w"/><text>10</text></g>
<g id="g11" transform="translate(132 44)"><use href="#w"/><text>11</text></g>
<g id="g12" transform="translate(176 44)"><use href="#w"/><text>12</text></g>
<g id="g13" transform="translate(220 44)"><use href="#w"/><text>13</text></g>
<g id="g14" class="b" transform="translate(264 44)"><use href="#k"/><text>14</text></g>
<g id="g15" transform="translate(308 44)"><use href="#w"/><text>15</text></g>
<g id="g16" transform="translate(0 88)"><use href="#w"/><text>16</text></g>
<g id="g17" transform="translate(44 88)"><use href="#w"/><text>17</text></g>
<g id="g18" class="b" transform="translate(88 88)"><use href="#k"/><text>18</text></g>
<g id="g19" transform="translate(132 88)"><use href="#w"/><text>19</text></g>
<g id="g20" transform="translate(176 88)"><use href="#w"/><text>20</text></g>
<g id="g21" class="b" transform="translate(220 88)"><use href="#k"/><text>21</text></g>
<g id="g22" transform="translate(264 88)"><use href="#w"/><text>22</text></g>
<g id="g23" transform="translate(308 88)"><use href="#w"/><text>23</text></g>
<g id="g24" transform="translate(0 132)"><use href="#w"/><text>24</text></g>
<g id="g25" transform="translate(44 132)"><use href="#w"/><text>25</text></g>
<g id="g26" transform="translate(88 132)"><use href="#w"/><text>26</text></g>
<g id="g27" class="b" transform="translate(132 132)"><use href="#k"/><text>27</text></g>
<g id="g28" class="b" transform="translate(176 132)"><use href="#k"/><text>28</text></g>
<g id="g29" transform="translate(220 132)"><use href="#w"/><text>29</text></g>
<g id="g30" transform="translate(264 132)"><use href="#w"/><text>30</text></g>
<g id="g31" transform="translate(308 132)"><use href="#w"/><text>31</text></g>
<g id="g32" transform="translate(0 176)"><use href="#w"/><text>32</text></g>
<g id="g33" transform="translate(44 176)"><use href="#w"/><text>33</text></g>
<g id="g34" transform="translate(88 176)"><use href="#w"/><text>34</text></g>
<g id="g35" class="b" transform="translate(132 176)"><use href="#k"/><text>35</text></g>
<g id="g36" class="b" transform="translate(176 176)"><use href="#k"/><text>36</text></g>
<g id="g37" transform="translate(220 176)"><use href="#w"/><text>37</text></g>
<g id="g38" transform="translate(264 176)"><use href="#w"/><text>38</text></g>
<g id="g39" transform="translate(308 176)"><use href="#w"/><text>39</text></g>
<g id="g40" transform="translate(0 220)"><use href="#w"/><text>40</text></g>
<g id="g41" transform="translate(44 220)"><use href="#w"/><text>41</text></g>
<g id="g42" class="b" transform="translate(88 220)"><use href="#k"/><text>42</text></g>
<g id="g43" transform="translate(132 220)"><use href="#w"/><text>43</text></g>
<g id="g44" transform="translate(176 220)"><use href="#w"/><text>44</text></g>
<g id="g45" class="b" transform="translate(220 220)"><use href="#k"/><text>45</text></g>
<g id="g46" transform="translate(264 220)"><use href="#w"/><text>46</text></g>
<g id="g47" transform="translate(308 220)"><use href="#w"/><text>47</text></g>
<g id="g48" transform="translate(0 264)"><use href="#w"/><text>48</text></g>
<g id="g49" class="b" transform="translate(44 264)"><use href="#k"/><text>49</text></g>
<g id="g50" transform="translate(88 264)"><use href="#w"/><text>50</text></g>
<g id="g51" transform="translate(132 264)"><use href="#w"/><text>51</text></g>
<g id="g52" transform="translate(176 264)"><use href="#w"/><text>52</text></g>
<g id="g53" transform="translate(220 264)"><use href="#w"/><text>53</text></g>
<g id="g54" class="b" transform="translate(264 264)"><use href="#k"/><text>54</text></g>
<g id="g55" transform="translate(308 264)"><use href="#w"/><text>55</text></g>
<g id="g56" class="b" transform="translate(0 308)"><use href="#k"/><text>56</text></g>
<g id="g57" transform="translate(44 308)"><use href="#w"/><text>57</text></g>
<g id="g58" transform="translate(88 308)"><use href="#w"/><text>58</text></g>
<g id="g59" transform="translate(132 308)"><use href="#w"/><text>59</text></g>
<g id="g60" transform="translate(176 308)"><use href="#w"/><text>60</text></g>
<g id="g61" transform="translate(220 308)"><use href="#w"/><text>61</text></g>
<g id="g62" transform="translate(264 308)"><use href="#w"/><text>62</text></g>
<g id="g63" class="b" transform="translate(308 308)"><use href="#k"/><text>63</text></g>
</g>
<g id="g-links">
<path class="dsh" d="M55 0h22M99 0h22M143 0h22M187 0h22M231 0h22M99 44h22M143 44h22M187 44h22M11 88h22M275 88h22M11 132h22M55 132h22M231 132h22M275 132h22M11 176h22M55 176h22M231 176h22M275 176h22M11 220h22M275 220h22M99 264h22M143 264h22M187 264h22M55 308h22M99 308h22M143 308h22M187 308h22M231 308h22M88 11v22M132 11v22M176 11v22M220 11v22M0 55v22M132 55v22M176 55v22M308 55v22M0 99v22M44 99v22M264 99v22M308 99v22M0 143v22M44 143v22M264 143v22M308 143v22M0 187v22M44 187v22M264 187v22M308 187v22M0 231v22M132 231v22M176 231v22M308 231v22M88 275v22M132 275v22M176 275v22M220 275v22"/>
<path class="red" d="M13 0h18M277 0h18M13 44h18M57 44h18M233 44h18M277 44h18M57 88h18M101 88h18M145 88h18M189 88h18M233 88h18M101 132h18M145 132h18M189 132h18M101 176h18M145 176h18M189 176h18M57 220h18M101 220h18M145 220h18M189 220h18M233 220h18M13 264h18M57 264h18M233 264h18M277 264h18M13 308h18M277 308h18M0 13v18M44 13v18M264 13v18M308 13v18M44 57v18M88 57v18M220 57v18M264 57v18M88 101v18M132 101v18M176 101v18M220 101v18M88 145v18M132 145v18M176 145v18M220 145v18M88 189v18M132 189v18M176 189v18M220 189v18M44 233v18M88 233v18M220 233v18M264 233v18M0 277v18M44 277v18M264 277v18M308 277v18"/>
</g>
</g>
</svg>
